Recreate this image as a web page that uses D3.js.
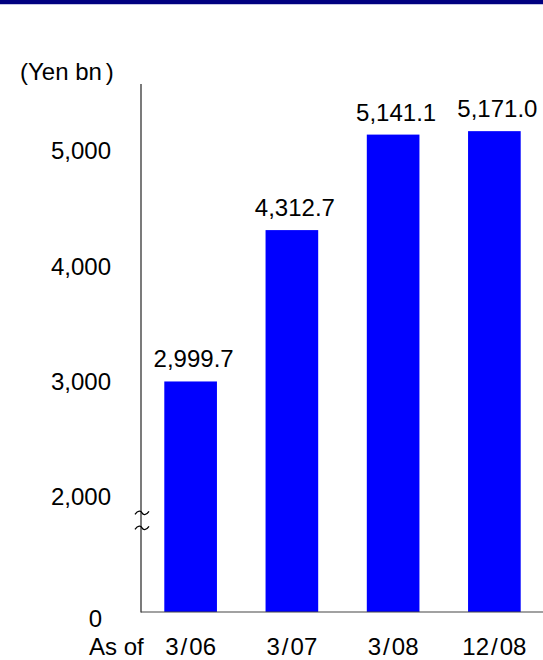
<!DOCTYPE html>
<html>
<head>
<meta charset="utf-8">
<script src="https://cdn.jsdelivr.net/npm/d3@7"></script>
<style>
  html, body { margin: 0; padding: 0; background: #fff; }
  svg { display: block; font-family: "Liberation Sans", Arial, sans-serif; }
  .label { font-size: 24px; fill: #000; }
</style>
</head>
<body>
<svg id="chart" width="543" height="660"></svg>
<script>
// data
const periods = ["3/06", "3/07", "3/08", "12/08"];
const values = [2999.7, 4312.7, 5141.1, 5171.0];
const valueLabels = ["2,999.7", "4,312.7", "5,141.1", "5,171.0"];
const yTicks = [2000, 3000, 4000, 5000];
const yTickLabels = ["2,000", "3,000", "4,000", "5,000"];
const zeroLabel = "0";
const unitLabel = "(Yen bn";
const prefixLabel = "As of";

const svg = d3.select("#chart");
const width = 543;

// header band
svg.append("rect").attr("x", 0).attr("y", 0).attr("width", width).attr("height", 4)
  .attr("fill", "#000080");
svg.append("rect").attr("x", 0).attr("y", 4).attr("width", width).attr("height", 1)
  .attr("fill", "#c4c4e4");

const axisX = 141;
const y = d3.scaleLinear().domain([1000, 5580]).range([612, 84]);
const x = d3.scaleBand().domain(periods).range([140, 545])
  .paddingInner(0.48).paddingOuter(0.24);

// bars
svg.selectAll(".bar").data(values).enter()
  .append("rect")
  .classed("bar", true)
  .attr("x", (d, i) => x(periods[i]))
  .attr("width", x.bandwidth())
  .attr("y", (d) => y(d))
  .attr("height", (d) => y.range()[0] - y(d))
  .attr("fill", "#0000ff");

// value labels
svg.selectAll(".val").data(values).enter()
  .append("text")
  .classed("label", true)
  .attr("x", (d, i) => x(periods[i]) + x.bandwidth() / 2 + 3)
  .attr("y", (d) => y(d) - 14)
  .attr("text-anchor", "middle")
  .text((d, i) => valueLabels[i]);

// axes
svg.append("line")
  .attr("x1", axisX).attr("x2", axisX)
  .attr("y1", y.range()[1]).attr("y2", y.range()[0] + 0.5)
  .attr("stroke", "#222").attr("stroke-width", 1.2);
svg.append("line")
  .attr("x1", axisX).attr("x2", width)
  .attr("y1", y.range()[0]).attr("y2", y.range()[0])
  .attr("stroke", "#444").attr("stroke-width", 1.2);

// y tick labels
svg.selectAll(".ytick").data(yTicks).enter()
  .append("text")
  .classed("label", true)
  .attr("x", axisX - 30)
  .attr("y", (d) => y(d))
  .attr("dy", "0.35em")
  .attr("text-anchor", "end")
  .text((d, i) => yTickLabels[i]);

svg.append("text").classed("label", true)
  .attr("x", axisX - 39)
  .attr("y", y.range()[0] + 7)
  .attr("dy", "0.35em")
  .attr("text-anchor", "end")
  .text(zeroLabel);

// axis break
const breakYs = [y(1860), y(1730)];
breakYs.forEach((by) => {
  svg.append("path")
    .attr("d", `M${axisX - 6},${by + 1.5} C${axisX - 3},${by - 3} ${axisX},${by - 2} ${axisX + 1},${by}`
      + ` S${axisX + 5},${by + 3} ${axisX + 8},${by - 1.5}`)
    .attr("fill", "none")
    .attr("stroke", "#000")
    .attr("stroke-width", 1.3);
});

// unit label
const unit = svg.append("text").classed("label", true)
  .attr("x", 20).attr("y", 80);
unit.append("tspan").text(unitLabel);
unit.append("tspan").attr("dx", 4).text(")");

// x labels
svg.append("text").classed("label", true)
  .attr("x", 89).attr("y", 655)
  .text(prefixLabel);

const xl = svg.selectAll(".xlab").data(periods).enter()
  .append("text")
  .classed("label", true)
  .attr("x", (d) => x(d) + x.bandwidth() / 2)
  .attr("y", 655)
  .attr("text-anchor", "middle");
xl.each(function (d) {
  const parts = d.split("/");
  const t = d3.select(this);
  t.append("tspan").text(parts[0]);
  t.append("tspan").attr("dx", 2).text("/");
  t.append("tspan").attr("dx", 2).text(parts[1]);
});
</script>
</body>
</html>
